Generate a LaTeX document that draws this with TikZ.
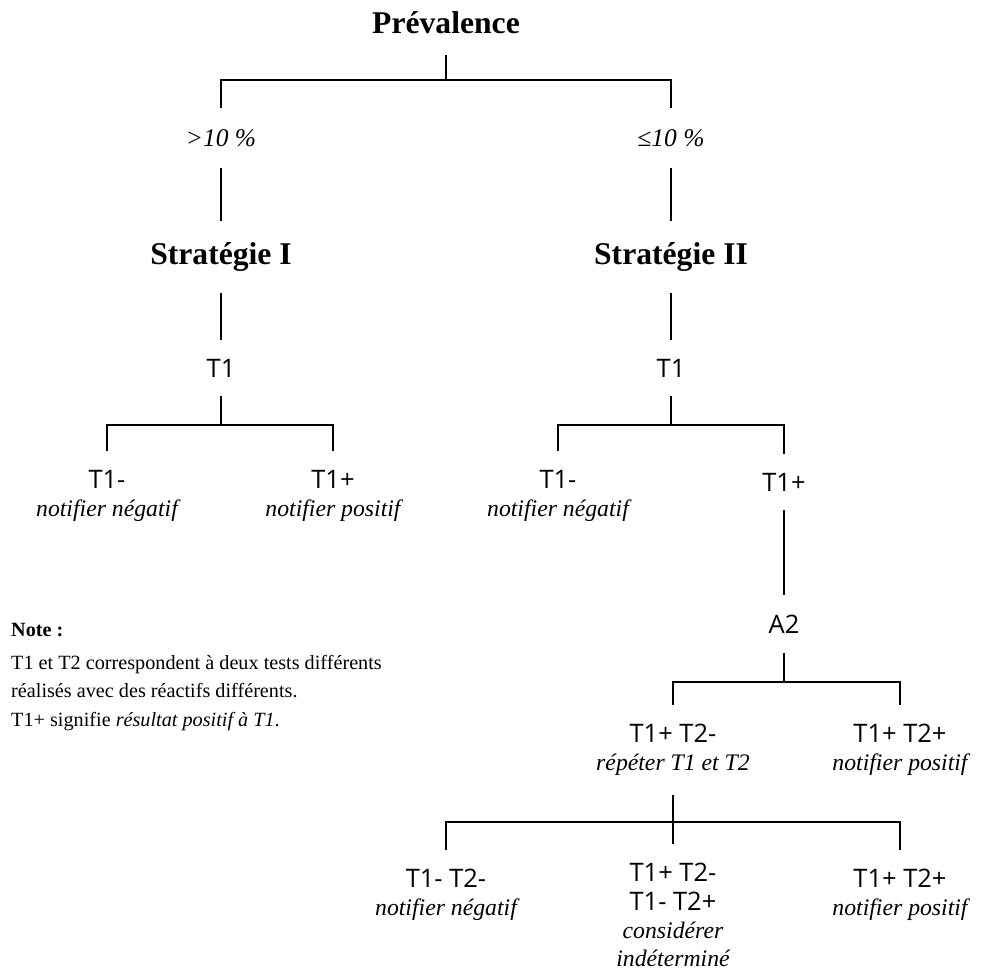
\documentclass[tikz,border=0pt]{standalone}
\usepackage{fontspec}
\setmainfont{Liberation Serif}
\setsansfont{Open Sans}
\newcommand{\verdict}[1]{{\rmfamily\itshape\fontsize{13.5}{15}\selectfont #1}}

\begin{document}
\begin{tikzpicture}[
  tree/.style={line width=1.2pt},
  head/.style={font=\bfseries\fontsize{18}{21}\selectfont, inner sep=0pt, outer sep=12pt},
  rate/.style={font=\itshape\fontsize{14.5}{16}\selectfont, inner sep=0pt, outer sep=12pt},
  test/.style={font=\sffamily\fontsize{14.5}{16}\selectfont, align=center, inner sep=0pt, outer sep=11pt},
]
\useasboundingbox (0,0) rectangle (19.62,-19.42);

\node[head] (prev) at (8.92,-0.46) {Prévalence};
\node[rate] (high) at (4.42,-2.76) {>10 \%};
\node[rate] (low) at (13.42,-2.76) {≤10 \%};
\node[head] (strat1) at (4.42,-5.14) {Stratégie I};
\node[head] (strat2) at (13.42,-5.14) {Stratégie II};
\node[test] (t1a) at (4.42,-7.36) {T1};
\node[test] (t1b) at (13.42,-7.36) {T1};
\node[test] (negA) at (2.14,-9.92) {T1-\\\verdict{notifier négatif}};
\node[test] (posA) at (6.66,-9.92) {T1+\\\verdict{notifier positif}};
\node[test] (negB) at (11.16,-9.92) {T1-\\\verdict{notifier négatif}};
\node[test] (posB) at (15.68,-9.64) {T1+};
\node[test] (a2) at (15.68,-12.48) {A2};
\node[test] (repeat) at (13.46,-15.0) {T1+ T2-\\\verdict{répéter T1 et T2}};
\node[test] (posC) at (18.0,-15.0) {T1+ T2+\\\verdict{notifier positif}};
\node[test] (negD) at (8.92,-17.9) {T1- T2-\\\verdict{notifier négatif}};
\node[test] (indet) at (13.46,-18.3) {T1+ T2-\\T1- T2+\\\verdict{considérer}\\\verdict{indéterminé}};
\node[test] (posD) at (18.0,-17.9) {T1+ T2+\\\verdict{notifier positif}};

\node[anchor=north west, align=left, font=\fontsize{11.5}{16}\selectfont] (note) at (0.1,-12.34)
  {\textbf{Note :}\\[3pt]
   T1 et T2 correspondent à deux tests différents\\
   réalisés avec des réactifs différents.\\
   T1+ signifie \textit{résultat positif à T1}.};

\coordinate (j0) at (8.92,-1.60);
\coordinate (j1) at (4.42,-8.50);
\coordinate (j2) at (13.42,-8.50);
\coordinate (j3) at (15.68,-13.64);
\coordinate (j4) at (13.46,-16.44);

\draw[tree] (prev) -- (j0);
\draw[tree] (high) |- (j0) -| (low);
\draw[tree] (high) -- (strat1);
\draw[tree] (low) -- (strat2);
\draw[tree] (strat1) -- (t1a);
\draw[tree] (strat2) -- (t1b);
\draw[tree] (t1a) -- (j1);
\draw[tree] (negA) |- (j1) -| (posA);
\draw[tree] (t1b) -- (j2);
\draw[tree] (negB) |- (j2) -| (posB);
\draw[tree] (posB) -- (a2);
\draw[tree] (a2) -- (j3);
\draw[tree] (repeat) |- (j3) -| (posC);
\draw[tree] (repeat) -- (indet);
\draw[tree] (negD) |- (j4) -| (posD);
\end{tikzpicture}
\end{document}
